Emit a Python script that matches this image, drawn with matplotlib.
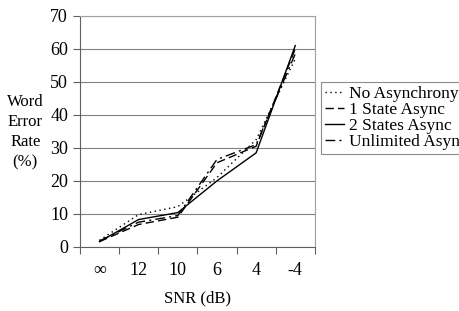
import matplotlib.pyplot as plt

# SNR conditions and word error rates (%)
snr = ['\u221e', '12', '10', '6', '4', '-4']
no_async = [2.0, 9.8, 12.2, 21.0, 32.5, 57.0]
one_state = [1.6, 6.8, 9.0, 25.5, 30.5, 60.0]
two_states = [1.6, 8.3, 10.4, 20.0, 28.5, 61.0]
unlimited = [1.8, 7.5, 9.5, 26.5, 31.0, 58.5]

plt.rcParams['font.family'] = 'Liberation Serif'

fig = plt.figure(figsize=(4.59, 3.11), dpi=100)
ax = fig.add_axes([0.174, 0.206, 0.512, 0.743])

x = list(range(len(snr)))
l1, = ax.plot(x, no_async, color='black', lw=1.0, linestyle=(0, (1, 2.5)))
l2, = ax.plot(x, one_state, color='black', lw=1.0, linestyle=(0, (6, 3)))
l3, = ax.plot(x, two_states, color='black', lw=1.0, linestyle='-')
l4, = ax.plot(x, unlimited, color='black', lw=1.0, linestyle=(0, (7, 3, 1.5, 3)))

ax.set_xlim(-0.5, len(snr) - 0.5)
ax.set_ylim(0, 70)
ax.set_yticks(range(0, 71, 10))
ax.yaxis.grid(True, color='#808080', lw=0.8)
ax.set_axisbelow(True)

ax.set_xticks([i - 0.5 for i in range(len(snr) + 1)])
ax.set_xticklabels([])
ax.set_xticks(x, minor=True)
ax.set_xticklabels(snr, minor=True, fontsize=13)
ax.tick_params(axis='x', which='major', length=5, color='#606060')
ax.tick_params(axis='x', which='minor', length=0, pad=11)
ax.tick_params(axis='y', length=5, color='#606060', labelsize=13)

for s in ['left', 'bottom']:
    ax.spines[s].set_color('#606060')
for s in ['top', 'right']:
    ax.spines[s].set_color('#a0a0a0')

ax.set_xlabel('SNR (dB)', fontsize=12, labelpad=8)
fig.text(0.055, 0.575, 'Word\nError\nRate\n(%)', ha='center', va='center',
         fontsize=12, linespacing=1.35)

leg = fig.legend([l1, l2, l3, l4],
                 ['No Asynchrony', '1 State Async', '2 States Async', 'Unlimited Async'],
                 loc='upper left', bbox_to_anchor=(0.700, 0.735), fontsize=12.5,
                 frameon=True, fancybox=False, handlelength=1.1, handletextpad=0.3,
                 borderpad=0.2, labelspacing=0.0, borderaxespad=0)
leg.get_frame().set_edgecolor('#707070')
leg.get_frame().set_linewidth(0.8)

fig.savefig('out.png', dpi=100)
